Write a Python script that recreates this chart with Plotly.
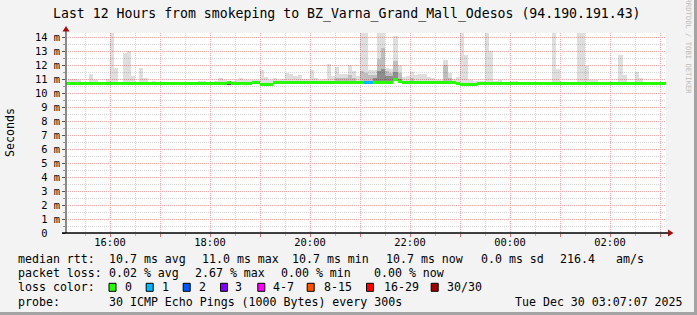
import plotly.graph_objects as go
import pandas as pd

# ---------------- data ----------------
TITLE = "Last 12 Hours from smokeping to BZ_Varna_Grand_Mall_Odesos (94.190.191.43)"
range_start = "2025-12-29 15:07:12"
range_end = "2025-12-30 03:07:12"
bar_start = pd.date_range("2025-12-29 15:05", "2025-12-30 03:05", freq="5min")  # 145 steps of 300 s

median_ms = [
    10.68, 10.68, 10.68, 10.68, 10.68, 10.68, 10.68, 10.68, 10.68, 10.68, 10.68,          # 15:05-15:55
    10.68, 10.68, 10.68, 10.68, 10.68, 10.68, 10.68, 10.68, 10.68, 10.68, 10.68, 10.68,   # 16
    10.68, 10.68, 10.68, 10.68, 10.68, 10.68, 10.68, 10.68, 10.68, 10.68, 10.68, 10.68,   # 17
    10.68, 10.68, 10.69, 10.69, 10.75, 10.69, 10.66, 10.65, 10.65, 10.70, 10.73, 10.73,   # 18
    10.64, 10.64, 10.64, 10.73, 10.73, 10.73, 10.73, 10.73, 10.73, 10.73, 10.73, 10.73,   # 19
    10.75, 10.75, 10.75, 10.75, 10.75, 10.75, 10.75, 10.75, 10.75, 10.75, 10.75, 10.75,   # 20
    10.75, 10.76, 10.76, 10.75, 10.75, 10.75, 10.75, 10.75, 10.95, 10.85, 10.74, 10.74,   # 21
    10.74, 10.74, 10.74, 10.74, 10.74, 10.74, 10.74, 10.74, 10.74, 10.74, 10.74, 10.67,   # 22
    10.64, 10.64, 10.64, 10.64, 10.66, 10.68, 10.68, 10.68, 10.68, 10.68, 10.68, 10.68,   # 23
    10.68, 10.68, 10.68, 10.68, 10.68, 10.68, 10.68, 10.68, 10.68, 10.68, 10.68, 10.68,   # 00
    10.68, 10.68, 10.68, 10.68, 10.68, 10.68, 10.68, 10.68, 10.68, 10.68, 10.68, 10.68,   # 01
    10.68, 10.68, 10.68, 10.68, 10.68, 10.68, 10.68, 10.68, 10.68, 10.68, 10.68, 10.68,   # 02
    10.68, 10.68,                                                                         # 03
]

smoke_max_ms = [
    10.80, 11.00, 11.00, 10.95, 10.80, 10.80, 11.36, 10.90, 10.80, 10.80, 11.00,          # 15:05-15:55
    15.00, 11.80, 10.80, 12.86, 13.00, 11.20, 10.80, 11.80, 11.05, 10.80, 10.85, 10.80,   # 16
    10.80, 10.80, 10.80, 10.80, 10.80, 10.80, 10.80, 10.80, 10.80, 10.85, 10.85, 10.80,   # 17
    10.80, 10.85, 11.05, 10.95, 10.85, 10.85, 10.90, 11.05, 10.95, 10.90, 10.90, 10.95,   # 18
    11.64, 11.14, 10.95, 11.05, 10.95, 11.00, 11.45, 11.36, 11.20, 11.30, 11.00, 11.00,   # 19
    11.64, 11.10, 10.95, 11.00, 12.07, 11.20, 11.86, 11.36, 11.36, 12.00, 11.57, 11.20,   # 20
    15.00, 15.00, 11.64, 11.64, 15.00, 15.00, 11.80, 11.75, 14.07, 12.00, 11.14, 11.20,   # 21
    11.50, 11.30, 11.36, 11.36, 11.14, 11.05, 10.95, 10.95, 12.36, 11.43, 11.00, 11.14,   # 22
    15.00, 12.70, 10.95, 10.85, 10.85, 10.85, 15.00, 13.00, 10.85, 10.90, 10.80, 10.80,   # 23
    10.85, 10.85, 10.80, 10.80, 10.80, 10.80, 10.80, 10.80, 10.80, 10.80, 15.00, 11.70,   # 00
    10.80, 10.80, 10.80, 10.80, 15.00, 15.00, 11.90, 10.90, 10.90, 10.80, 10.80, 10.80,   # 01
    10.80, 10.80, 12.70, 11.30, 10.80, 10.80, 11.50, 11.10, 10.80, 10.80, 10.80, 10.80,   # 02
    10.80, 10.80,                                                                         # 03
]

loss_count = [
    0, 0, 0, 0, 0, 0, 0, 0, 0, 0, 0,
    0, 0, 0, 0, 0, 0, 0, 0, 0, 0, 0, 0,
    0, 0, 0, 0, 0, 0, 0, 0, 0, 0, 0, 0,
    0, 0, 0, 0, 0, 0, 0, 0, 0, 0, 0, 0,
    0, 0, 0, 0, 0, 0, 0, 0, 0, 0, 0, 0,
    0, 0, 0, 0, 0, 0, 0, 0, 0, 0, 0, 0,
    0, 1, 1, 0, 0, 0, 0, 0, 0, 0, 0, 0,
    0, 0, 0, 0, 0, 0, 0, 0, 0, 0, 0, 0,
    0, 0, 0, 0, 0, 0, 0, 0, 0, 0, 0, 0,
    0, 0, 0, 0, 0, 0, 0, 0, 0, 0, 0, 0,
    0, 0, 0, 0, 0, 0, 0, 0, 0, 0, 0, 0,
    0, 0, 0, 0, 0, 0, 0, 0, 0, 0, 0, 0,
    0, 0,
]

# denser smoke (more pings) above the median
mid_times = ["20:30", "20:35", "20:40", "20:45", "20:50", "21:00", "21:05", "21:10", "21:15",
             "21:20", "21:25", "21:30", "21:35", "21:40", "21:45", "22:00", "22:40", "22:45"]
mid_top_ms = [11.10, 11.05, 11.10, 11.30, 11.10, 11.60, 11.40, 11.30, 11.30,
              12.40, 13.20, 11.60, 11.40, 12.30, 11.40, 11.10, 12.00, 11.10]
dark_times = ["21:15", "21:20", "21:25", "21:30", "21:35", "21:40", "21:45"]
dark_top_ms = [11.05, 11.60, 11.70, 11.20, 11.20, 11.50, 11.00]
# smoke visible just below the median line
under_times = ["18:20", "18:45", "19:35", "19:40", "19:45", "19:50", "20:40", "20:45",
               "20:50", "20:55", "21:35", "22:40", "22:45", "22:50"]
under_low_ms = [10.57, 10.59, 10.61, 10.61, 10.61, 10.61, 10.63, 10.63,
                10.63, 10.63, 10.63, 10.63, 10.63, 10.63]

y_tick_vals = list(range(15))
y_tick_text = ["0\u00a0\u00a0"] + [f"{v} m" for v in range(1, 15)]
x_tick_times = pd.date_range("2025-12-29 16:00", "2025-12-30 03:00", freq="1h")
x_tick_text = ["16:00", "", "18:00", "", "20:00", "", "22:00", "", "00:00", "", "02:00", ""]

loss_labels = ["0", "1", "2", "3", "4-7", "8-15", "16-29", "30/30"]
loss_upper = [0, 1, 2, 3, 7, 15, 29, 30]
loss_colors = ["#26ff00", "#00b8ff", "#0059ff", "#7e00ff", "#ff00ff", "#ff5500", "#ff0000", "#a00000"]

rtt_texts = ["median rtt:", "10.7 ms avg", "11.0 ms max", "10.7 ms min", "10.7 ms now",
             "0.0 ms sd", "216.4", "am/s"]
loss_texts = ["packet loss:", "0.02 % avg", "2.67 % max", "0.00 % min", "0.00 % now"]
color_head = "loss color:"
probe_texts = ["probe:", "30 ICMP Echo Pings (1000 Bytes) every 300s", "Tue Dec 30 03:07:07 2025"]
watermark = "RRDTOOL / TOBI OETIKER"
y_title = "Seconds"

# ---------------- layout constants (pixels) ----------------
W, H = 697, 315
PL, PR, PT, PB = 66, 666, 33, 233
YMAX = 200 / 14.0
rtt_x = [16, 107.3, 200, 290, 384, 479.3, 558.3, 613.8]
loss_x = [16, 107.3, 192.7, 279.3, 371.7]
sq_x = [108.5, 145.7, 182.7, 220, 257.3, 306.7, 366, 430.7]
lab_x = [123.3, 160, 196.7, 233.3, 270.7, 321.7, 381.7, 445]
probe_x = [16, 107.3, 513.3]
row_y = [259.3, 273.3, 287.3, 301.5]
FONT = "DejaVu Sans Mono"
LEG_SIZE = 11.6


def px2x(px):
    return (px - PL) / (PR - PL)


def px2y(py):
    return (PB - py) / (PB - PT)


def bucket(n):
    for i, up in enumerate(loss_upper):
        if n <= up:
            return i
    return len(loss_upper) - 1


centers = bar_start + pd.Timedelta(seconds=150)
key = list(bar_start.strftime("%H:%M"))
BAR_W = 300 * 1000
LINE_HALF = 1.5 / 14.0

fig = go.Figure()
fig.add_trace(go.Bar(
    x=centers, base=median_ms, y=[mx - md for mx, md in zip(smoke_max_ms, median_ms)],
    width=BAR_W, marker=dict(color="rgba(0,0,0,0.13)", line=dict(width=0)), hoverinfo="skip"))
mid_idx = [key.index(t) for t in mid_times]
fig.add_trace(go.Bar(
    x=[centers[i] for i in mid_idx], base=[median_ms[i] for i in mid_idx],
    y=[v - median_ms[i] for v, i in zip(mid_top_ms, mid_idx)],
    width=BAR_W, marker=dict(color="rgba(0,0,0,0.14)", line=dict(width=0)), hoverinfo="skip"))
dark_idx = [key.index(t) for t in dark_times]
fig.add_trace(go.Bar(
    x=[centers[i] for i in dark_idx], base=[median_ms[i] for i in dark_idx],
    y=[v - median_ms[i] for v, i in zip(dark_top_ms, dark_idx)],
    width=BAR_W, marker=dict(color="rgba(0,0,0,0.25)", line=dict(width=0)), hoverinfo="skip"))
under_idx = [key.index(t) for t in under_times]
fig.add_trace(go.Bar(
    x=[centers[i] for i in under_idx], base=under_low_ms,
    y=[median_ms[i] - v for v, i in zip(under_low_ms, under_idx)],
    width=BAR_W, marker=dict(color="rgba(20,20,20,0.7)", line=dict(width=0)), hoverinfo="skip"))
fig.add_trace(go.Bar(
    x=centers, base=[m - LINE_HALF for m in median_ms], y=[2 * LINE_HALF] * len(median_ms),
    width=BAR_W, marker=dict(color=[loss_colors[bucket(n)] for n in loss_count], line=dict(width=0)),
    hoverinfo="skip"))

RED_GRID = "#f2a9a9"
GRAY_GRID = "#d4d4d4"
fig.update_layout(
    width=W, height=H,
    margin=dict(l=PL, r=W - PR, t=PT, b=H - PB, pad=0),
    paper_bgcolor="#f3f3f3", plot_bgcolor="#ffffff",
    barmode="overlay", bargap=0, showlegend=False,
    font=dict(family=FONT, size=LEG_SIZE, color="#000000"),
    xaxis=dict(
        type="date", range=[range_start, range_end],
        tickmode="array", tickvals=list(x_tick_times), ticktext=x_tick_text,
        showgrid=True, gridcolor=RED_GRID, gridwidth=1, griddash="1px,1px",
        zeroline=False, showline=False,
        ticks="outside", ticklen=3, tickcolor="#e07070", tickwidth=1,
        ticklabelstandoff=-3,
        tickfont=dict(family=FONT, size=10.4, color="#000000"),
        minor=dict(dtick=30 * 60 * 1000, tick0="2025-12-29 15:30", showgrid=True,
                   gridcolor=GRAY_GRID, griddash="1px,1px", ticks="outside", ticklen=2,
                   tickcolor="#bbbbbb"),
    ),
    yaxis=dict(
        range=[0, YMAX], tickmode="array", tickvals=y_tick_vals, ticktext=y_tick_text,
        showgrid=True, gridcolor=RED_GRID, gridwidth=1, griddash="1px,1px",
        zeroline=False, showline=False,
        ticks="outside", ticklen=3, tickcolor="#555555", tickwidth=1,
        tickfont=dict(family=FONT, size=10.4, color="#000000"),
        minor=dict(dtick=0.5, showgrid=True, gridcolor=GRAY_GRID, griddash="1px,1px",
                   ticks="outside", ticklen=2, tickcolor="#999999"),
    ),
)

shapes = []
# axes
shapes.append(dict(type="line", xref="paper", yref="paper", x0=px2x(66), x1=px2x(66),
                   y0=px2y(233), y1=px2y(30), line=dict(color="#666666", width=1.5), layer="above"))
shapes.append(dict(type="line", xref="paper", yref="paper", x0=px2x(62), x1=px2x(669),
                   y0=px2y(233), y1=px2y(233), line=dict(color="#000000", width=1.5), layer="above"))
# arrows
shapes.append(dict(type="path", xref="paper", yref="paper", layer="above",
                   path=f"M {px2x(62.5)} {px2y(31.5)} L {px2x(69.5)} {px2y(31.5)} L {px2x(66)} {px2y(26)} Z",
                   fillcolor="#a01010", line=dict(width=0)))
shapes.append(dict(type="path", xref="paper", yref="paper", layer="above",
                   path=f"M {px2x(668)} {px2y(229.5)} L {px2x(668)} {px2y(236.5)} L {px2x(673.5)} {px2y(233)} Z",
                   fillcolor="#a01010", line=dict(width=0)))
# frame
shapes.append(dict(type="rect", xref="paper", yref="paper", x0=px2x(694), x1=px2x(697.5),
                   y0=px2y(315.5), y1=px2y(-0.5), fillcolor="#a4a4a4", line=dict(width=0), layer="above"))
shapes.append(dict(type="rect", xref="paper", yref="paper", x0=px2x(-0.5), x1=px2x(697.5),
                   y0=px2y(315.5), y1=px2y(312), fillcolor="#a4a4a4", line=dict(width=0), layer="above"))
# legend squares
for xs, col in zip(sq_x, loss_colors):
    shapes.append(dict(type="rect", xref="paper", yref="paper", x0=px2x(xs + 0.5), x1=px2x(xs + 7.5),
                       y0=px2y(row_y[2] + 4), y1=px2y(row_y[2] - 4),
                       fillcolor=col, line=dict(color="#000000", width=1), layer="above"))
fig.update_layout(shapes=shapes)

ann = []


def text(t, x, y, size=LEG_SIZE, anchor="left", color="#000000", angle=0):
    ann.append(dict(text=t, x=px2x(x), y=px2y(y), xref="paper", yref="paper", showarrow=False,
                    xanchor=anchor, yanchor="middle", textangle=angle,
                    font=dict(family=FONT, size=size, color=color)))


text(TITLE, 347, 13.5, size=13.2, anchor="center")
text(y_title, 10, 133, angle=-90, anchor="center")
text(watermark, 688, 46.5, size=7.2, anchor="center", color="#bcbcbc", angle=90)
for t, x in zip(rtt_texts, rtt_x):
    text(t, x, row_y[0])
for t, x in zip(loss_texts, loss_x):
    text(t, x, row_y[1])
text(color_head, 16, row_y[2])
for t, x in zip(loss_labels, lab_x):
    text(t, x, row_y[2])
for t, x in zip(probe_texts, probe_x):
    text(t, x, row_y[3])
fig.update_layout(annotations=ann)

fig.write_html("out.html")
